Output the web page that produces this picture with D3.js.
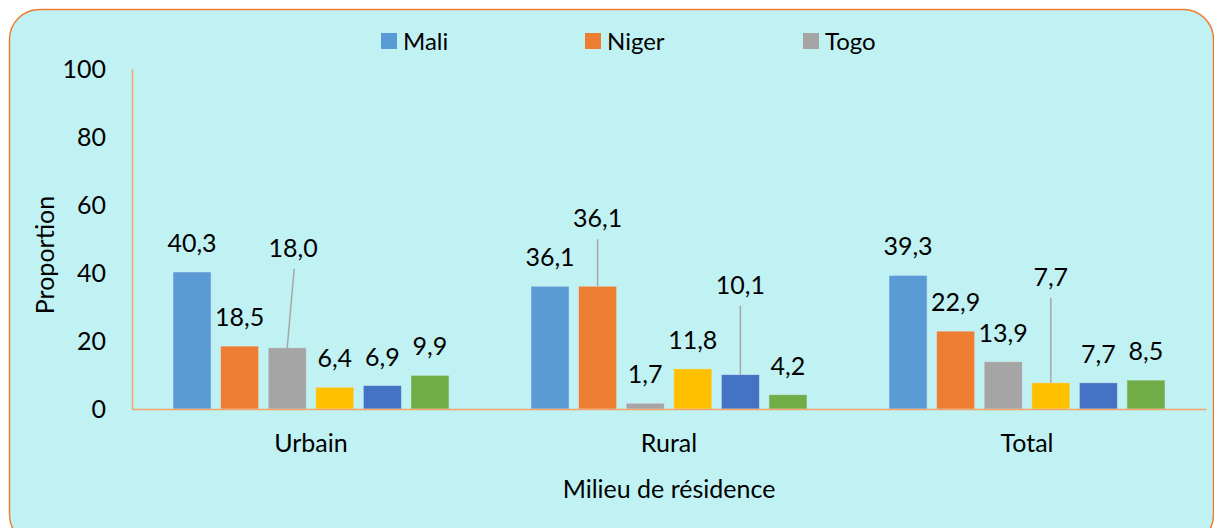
<!DOCTYPE html>
<html lang="fr">
<head>
<meta charset="UTF-8">
<title>Proportion par milieu de résidence</title>
<script src="https://d3js.org/d3.v7.min.js"></script>
<style>
  body { margin: 0; background: #ffffff; }
  svg text { font-family: Lato, "Noto Sans", sans-serif; fill: #000; }
</style>
</head>
<body>
<div id="chart"></div>
<script>
// categories and series
const categories = ["Urbain", "Rural", "Total"];
const seriesNames = ["Mali", "Niger", "Togo", "Série 4", "Série 5", "Série 6"];
const legendNames = ["Mali", "Niger", "Togo"];
const mali   = [40.3, 36.1, 39.3];
const niger  = [18.5, 36.1, 22.9];
const togo   = [18.0, 1.7, 13.9];
const serie4 = [6.4, 11.8, 7.7];
const serie5 = [6.9, 10.1, 7.7];
const serie6 = [9.9, 4.2, 8.5];
const yTicks = [0, 20, 40, 60, 80, 100];

const colors = ["#5b9bd5", "#ed7d31", "#a5a5a5", "#ffc000", "#4472c4", "#70ad47"];
const allValues = [mali, niger, togo, serie4, serie5, serie6];

// labels pushed up with a leader line: "series-category" -> extra px
const leaders = { "2-0": 71, "1-1": 39, "4-1": 61, "3-2": 77 };

const W = 1214, H = 528;
const svg = d3.select("#chart").append("svg")
  .attr("width", W).attr("height", H);

// frame
svg.append("rect")
  .attr("x", 9.5).attr("y", 9.5)
  .attr("width", 1204).attr("height", 535)
  .attr("rx", 30)
  .attr("fill", "#c1f2f3")
  .attr("stroke", "#ed7d31")
  .attr("stroke-width", 1.5);

const x0 = d3.scaleBand().domain(categories).range([132, 1206]);
const x1 = d3.scaleBand().domain(d3.range(seriesNames.length))
  .range([41, x0.bandwidth() - 41]).paddingInner(0.2);
const y = d3.scaleLinear().domain([0, 100]).range([409, 69]);

// y axis
const yAxis = svg.append("g")
  .attr("transform", "translate(132,0)")
  .call(d3.axisLeft(y).tickValues(yTicks).tickSize(0).tickPadding(26));
yAxis.select(".domain").attr("stroke", "#f4a46a").attr("stroke-width", 1.5);
yAxis.selectAll("text").style("font-size", "25px");

// bars
const rows = [];
categories.forEach((c, ci) => {
  allValues.forEach((vals, si) => rows.push({ c, ci, si, v: vals[ci] }));
});
const cx = d => x0(d.c) + x1(d.si) + x1.bandwidth() / 2;
const lift = d => leaders[d.si + "-" + d.ci] || 0;

svg.append("g").selectAll("rect").data(rows).join("rect")
  .attr("x", d => x0(d.c) + x1(d.si))
  .attr("y", d => y(d.v))
  .attr("width", x1.bandwidth())
  .attr("height", d => y(0) - y(d.v))
  .attr("fill", d => colors[d.si])
  .attr("stroke", "#d6eef5")
  .attr("stroke-opacity", 0.6)
  .attr("stroke-width", 0.8);

// x axis
const xAxis = svg.append("g")
  .attr("transform", "translate(0,409)")
  .call(d3.axisBottom(x0).tickSize(0).tickPadding(25));
xAxis.select(".domain").attr("stroke", "#f4a46a").attr("stroke-width", 1.5);
xAxis.selectAll("text").style("font-size", "25px");

// leader lines
svg.append("g").selectAll("line").data(rows.filter(lift)).join("line")
  .attr("x1", cx)
  .attr("y1", d => y(d.v))
  .attr("x2", d => cx(d) + (d.si === 2 ? 7 : 0))
  .attr("y2", d => y(d.v) - 20 - lift(d) + 12)
  .attr("stroke", "#a6a6a6")
  .attr("stroke-width", 1.5);

// data labels
svg.append("g").selectAll("text").data(rows).join("text")
  .attr("x", d => cx(d) + (lift(d) && d.si === 2 ? 6 : 0))
  .attr("y", d => y(d.v) - 20 - lift(d))
  .attr("text-anchor", "middle")
  .style("font-size", "25px")
  .text(d => d3.format(".1f")(d.v).replace(".", ","));

// axis titles
svg.append("text")
  .attr("transform", "translate(54,255) rotate(-90)")
  .attr("text-anchor", "middle")
  .style("font-size", "25px")
  .text("Proportion");

svg.append("text")
  .attr("x", 669).attr("y", 498)
  .attr("text-anchor", "middle")
  .style("font-size", "25px")
  .text("Milieu de résidence");

// legend
const legendX = [381, 585, 803];
const legend = svg.append("g").selectAll("g").data(legendNames).join("g")
  .attr("transform", (d, i) => `translate(${legendX[i]},33)`);
legend.append("rect")
  .attr("width", 16).attr("height", 16)
  .attr("fill", (d, i) => colors[i]);
legend.append("text")
  .attr("x", 22).attr("y", 17)
  .style("font-size", "24px")
  .text(d => d);
</script>
</body>
</html>
